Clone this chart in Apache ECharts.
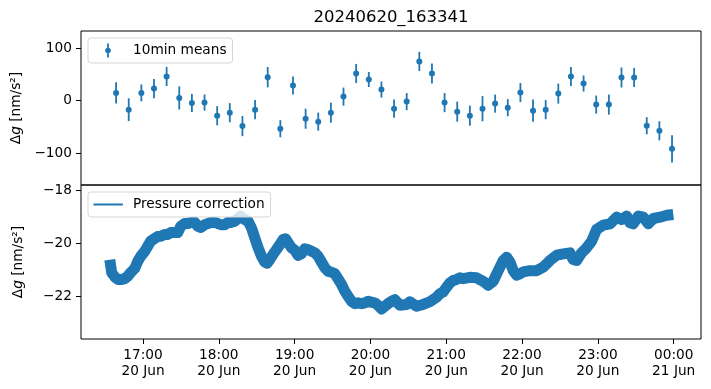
<!DOCTYPE html>
<html>
<head>
<meta charset="utf-8">
<script src="https://cdn.jsdelivr.net/npm/echarts@6/dist/echarts.min.js"></script>
<style>html,body{margin:0;padding:0;background:#fff}#chart{width:711px;height:389px}</style>
</head>
<body>
<div id="chart"></div>
<script>
// ---- data ----
const titleText = '20240620_163341';
const meanTimes = ['16:38:41','16:48:41','16:58:41','17:08:41','17:18:41','17:28:41','17:38:41','17:48:41','17:58:41',
  '18:08:41','18:18:41','18:28:41','18:38:41','18:48:41','18:58:41','19:08:41','19:18:41','19:28:41','19:38:41','19:48:41','19:58:41',
  '20:08:41','20:18:41','20:28:41','20:38:41','20:48:41','20:58:41','21:08:41','21:18:41','21:28:41','21:38:41','21:48:41','21:58:41',
  '22:08:41','22:18:41','22:28:41','22:38:41','22:48:41','22:58:41','23:08:41','23:18:41','23:28:41','23:38:41','23:48:41','23:58:41'];
const meanValues = [14.7,-17.2,14.7,22.9,45.9,5.1,-4.5,-3.8,-28.7,-23,
  -48.5,-17.2,44.6,-53.5,28.7,-34.4,-40,-23,7.6,51.6,
  40.2,21,-15.3,-1.9,74.6,51.6,-3.8,-21,-28.7,-15.3,
  -5.7,-13.4,15.3,-19.1,-17.2,13.4,45.9,32.5,-7.6,-7.6,
  44,44,-47.8,-57.4,-91.8];
const meanErrors = [20.4,21.7,16,18.2,18.2,22,17.2,15.3,18.2,18.2,
  19.1,18.2,19.4,16.3,17.2,19.1,17.2,19.1,17.2,18.2,
  14.3,15.3,17.2,16.3,18.2,19.1,18.2,19.1,19.1,23.9,
  17.2,16.3,18.2,21,18.2,19.1,18.2,15.3,17.2,19.1,
  19.1,18.2,16.3,18.2,25.8];
// pressure correction: minutes after 2024-06-20 16:00
const pressureMinutes = [33.7,35.2,37.6,40.0,43.1,45.5,47.9,50.3,53.4,55.8,
  58.2,61.4,63.7,66.1,69.3,71.6,74.0,77.2,79.6,81.9,
  85.1,87.5,89.9,93.0,95.4,97.8,100.9,103.3,105.7,108.9,
  111.2,113.6,116.8,119.2,121.5,124.7,127.1,129.4,132.6,135.0,
  137.4,140.5,143.2,145.8,148.5,151.1,153.8,156.4,158.2,160.3,
  162.9,165.6,168.3,170.9,172.8,174.8,177.5,180.1,182.7,185.4,
  188.0,190.7,193.4,196.0,198.6,201.3,203.9,206.5,209.2,211.8,
  214.4,217.1,219.7,222.3,225.0,227.6,230.3,233.0,235.6,238.2,
  240.9,243.5,246.1,248.8,251.4,254.0,256.7,259.3,263.3,268.6,
  271.2,276.5,281.7,287.0,292.3,294.9,297.6,300.3,302.9,305.5,
  308.2,310.8,313.4,318.7,324.0,329.2,333.2,337.2,339.9,342.5,
  345.1,347.8,350.4,353.0,355.7,358.3,360.9,366.2,371.5,376.8,
  382.0,387.4,392.6,397.9,400.5,403.2,407.1,411.1,415.1,419.0,
  424.3,429.6,434.9,438.8,442.8,445.4,448.0,452.0,456.0,459.9,
  463.9,469.2,474.5,479.7];
const pressureValues = [-20.62,-21.11,-21.26,-21.36,-21.36,-21.33,-21.24,-21.10,-20.95,-20.68,
  -20.49,-20.30,-20.11,-19.92,-19.82,-19.75,-19.74,-19.67,-19.67,-19.60,
  -19.60,-19.60,-19.36,-19.26,-19.26,-19.22,-19.21,-19.36,-19.41,-19.30,
  -19.26,-19.22,-19.21,-19.26,-19.30,-19.30,-19.22,-19.22,-19.17,-19.07,
  -18.98,-19.11,-19.17,-19.42,-19.80,-20.17,-20.49,-20.71,-20.75,-20.61,
  -20.42,-20.24,-20.05,-19.86,-19.83,-19.98,-20.17,-20.26,-20.46,-20.39,
  -20.21,-20.24,-20.30,-20.36,-20.49,-20.71,-20.92,-21.05,-21.09,-21.14,
  -21.34,-21.55,-21.80,-21.99,-22.18,-22.27,-22.24,-22.27,-22.24,-22.18,
  -22.22,-22.24,-22.34,-22.47,-22.37,-22.27,-22.18,-22.12,-22.33,-22.30,
  -22.20,-22.37,-22.30,-22.20,-22.03,-21.90,-21.83,-21.65,-21.49,-21.40,
  -21.36,-21.30,-21.33,-21.28,-21.30,-21.43,-21.58,-21.43,-21.15,-20.90,
  -20.65,-20.53,-20.70,-21.03,-21.20,-21.15,-21.08,-21.03,-21.03,-20.90,
  -20.65,-20.45,-20.40,-20.36,-20.61,-20.65,-20.36,-20.17,-19.92,-19.48,
  -19.32,-19.27,-19.02,-19.11,-18.98,-19.23,-19.27,-18.98,-19.02,-19.27,
  -19.07,-19.02,-18.95,-18.92];
const xTickTimes = ['2024-06-20T17:00:00','2024-06-20T18:00:00','2024-06-20T19:00:00','2024-06-20T20:00:00',
  '2024-06-20T21:00:00','2024-06-20T22:00:00','2024-06-20T23:00:00','2024-06-21T00:00:00'];
const xTickLabels = ['17:00\n20 Jun','18:00\n20 Jun','19:00\n20 Jun','20:00\n20 Jun',
  '21:00\n20 Jun','22:00\n20 Jun','23:00\n20 Jun','00:00\n21 Jun'];
const topYTicks = [-100, 0, 100];
const bottomYTicks = [-22, -20, -18];

// ---- build ----
const C = '#1f77b4';
const FONT = 'DejaVu Sans';
const FS = 13.7;
const pressureBase = new Date('2024-06-20T16:00:00').getTime();
const tickTs = xTickTimes.map(s => new Date(s).getTime());
const meanData = meanTimes.map((t, i) => {
  const ts = new Date('2024-06-20T' + t).getTime();
  return [ts, meanValues[i], meanValues[i] - meanErrors[i], meanValues[i] + meanErrors[i]];
});
const pressureData = pressureMinutes.map((m, i) => [pressureBase + m * 60000, pressureValues[i]]);
const xMin = new Date('2024-06-20T16:10:55').getTime();
const xMax = new Date('2024-06-21T00:21:37').getTime();
const minus = v => String(v).replace('-', '\u2212');

const errIcon = 'path://M0,0h0.01v0.01h-0.01Z M34.49,13.99h0.01v0.01h-0.01Z M13.6,0H15.4V14H13.6Z M17.3,7A2.8,2.8 0 1 1 11.7,7A2.8,2.8 0 1 1 17.3,7Z';
const lineIcon = 'path://M0,0h0.01v0.01h-0.01Z M34.49,13.99h0.01v0.01h-0.01Z M0,6H29.4V8H0Z';

const legendBase = {
  orient: 'horizontal', itemWidth: 34.5, itemHeight: 14, padding: [5.5, 6, 5.5, 5.5],
  borderColor: '#d6d6d6', borderWidth: 1, borderRadius: 3, backgroundColor: 'rgba(255,255,255,0.8)',
  selectedMode: false, itemStyle: { borderWidth: 0 },
  textStyle: { fontFamily: FONT, fontSize: FS, color: '#000', lineHeight: 14 }
};

const yName = '{d|\u0394}{g|g} [nm/s\u00b2]';
const yNameStyle = {
  fontFamily: FONT, fontSize: FS, color: '#000',
  rich: { d: { fontFamily: FONT, fontSize: FS }, g: { fontFamily: FONT, fontSize: FS, fontStyle: 'italic' } }
};
const tickStyle = { show: true, length: 5, lineStyle: { color: '#000', width: 1 } };

const option = {
  animation: false,
  backgroundColor: '#fff',
  color: [C],
  textStyle: { fontFamily: FONT },
  graphic: [{
    type: 'text', x: 391, y: 18,
    style: { text: titleText, textAlign: 'center', textVerticalAlign: 'middle', font: '16.5px "DejaVu Sans"', fill: '#000' }
  }],
  legend: [
    Object.assign({}, legendBase, { left: 88, top: 38, data: [{ name: '10min means', icon: errIcon }] }),
    Object.assign({}, legendBase, { left: 88, top: 192, data: [{ name: 'Pressure correction', icon: lineIcon }] })
  ],
  grid: [
    { left: 81, top: 31, width: 620, height: 154, show: true, borderColor: '#000', borderWidth: 1, backgroundColor: 'transparent' },
    { left: 81, top: 185, width: 620, height: 154, show: true, borderColor: '#000', borderWidth: 1, backgroundColor: 'transparent' }
  ],
  xAxis: [
    { type: 'value', gridIndex: 0, min: xMin, max: xMax, axisLine: { show: false }, axisTick: { show: false },
      axisLabel: { show: false }, splitLine: { show: false } },
    { type: 'value', gridIndex: 1, min: xMin, max: xMax, axisLine: { show: false },
      axisTick: Object.assign({ customValues: tickTs }, tickStyle),
      axisLabel: { customValues: tickTs, margin: 8, fontFamily: FONT, fontSize: FS, color: '#000', lineHeight: 16,
        formatter: v => { const i = tickTs.indexOf(v); return i >= 0 ? xTickLabels[i] : ''; } },
      splitLine: { show: false } }
  ],
  yAxis: [
    { type: 'value', gridIndex: 0, min: -160.6, max: 132.5, axisLine: { show: false },
      axisTick: Object.assign({ customValues: topYTicks }, tickStyle),
      axisLabel: { customValues: topYTicks, margin: 9, fontFamily: FONT, fontSize: FS, color: '#000', formatter: minus },
      splitLine: { show: false },
      name: yName, nameLocation: 'middle', nameGap: 56, nameRotate: 90, nameTextStyle: yNameStyle },
    { type: 'value', gridIndex: 1, min: -23.6, max: -17.81, axisLine: { show: false },
      axisTick: Object.assign({ customValues: bottomYTicks }, tickStyle),
      axisLabel: { customValues: bottomYTicks, margin: 9, fontFamily: FONT, fontSize: FS, color: '#000', formatter: minus },
      splitLine: { show: false },
      name: yName, nameLocation: 'middle', nameGap: 56, nameRotate: 90, nameTextStyle: yNameStyle }
  ],
  series: [
    {
      name: 'errbars', type: 'custom', xAxisIndex: 0, yAxisIndex: 0, data: meanData,
      encode: { x: 0, y: [1, 2, 3] },
      renderItem: (params, api) => {
        const p1 = api.coord([api.value(0), api.value(2)]);
        const p2 = api.coord([api.value(0), api.value(3)]);
        return { type: 'line', shape: { x1: p1[0], y1: p1[1], x2: p2[0], y2: p2[1] },
          style: { stroke: C, lineWidth: 1.8 } };
      },
      z: 2
    },
    {
      name: '10min means', type: 'scatter', xAxisIndex: 0, yAxisIndex: 0,
      data: meanData.map(d => [d[0], d[1]]), symbol: 'circle', symbolSize: 6,
      itemStyle: { color: C, opacity: 1 }, z: 3
    },
    {
      name: 'Pressure correction', type: 'line', xAxisIndex: 1, yAxisIndex: 1,
      data: pressureData, showSymbol: false, symbol: 'none',
      lineStyle: { color: C, width: 11, join: 'round', cap: 'butt' }, itemStyle: { color: C }, z: 2
    }
  ]
};
const chart = echarts.init(document.getElementById('chart'), null, { renderer: 'canvas' });
chart.setOption(option);
</script>
</body>
</html>
